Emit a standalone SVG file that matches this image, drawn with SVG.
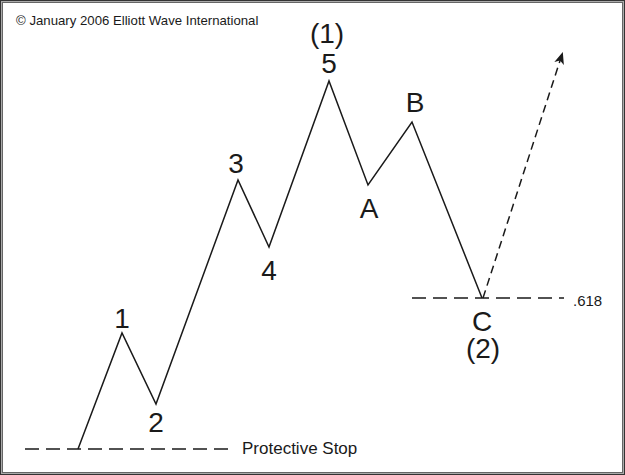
<svg xmlns="http://www.w3.org/2000/svg" width="625" height="475" viewBox="0 0 625 475">
<defs>
<style>
.lbl{font-family:"Liberation Sans",Arial,sans-serif;font-size:28px;fill:#1a1a1a;text-anchor:middle}
.sm{font-family:"Liberation Sans",Arial,sans-serif;fill:#1a1a1a}
.wave{fill:none;stroke:#1a1a1a;stroke-width:1.5;stroke-linejoin:miter}
.level{fill:none;stroke:#1a1a1a;stroke-width:1.5;stroke-dasharray:14 7}
.proj{fill:none;stroke:#1a1a1a;stroke-width:1.5;stroke-dasharray:8 5}
</style>
<marker id="ah" markerWidth="12" markerHeight="10" refX="11" refY="5" orient="auto" markerUnits="userSpaceOnUse">
<path d="M0,0 L12,5 L0,10 L3,5 Z" fill="#1a1a1a"/>
</marker>
</defs>
<rect x="0" y="0" width="625" height="475" fill="#ffffff"/>
<rect x="0.5" y="0.5" width="624" height="474" fill="none" stroke="#333"/>
<rect x="1.5" y="1.5" width="622" height="472" fill="none" stroke="#aaa"/>
<rect x="2.5" y="2.5" width="620" height="470" fill="none" stroke="#666"/>
<text class="sm" x="16" y="25" font-size="13.2">© January 2006 Elliott Wave International</text>
<g id="connectors">
<polyline class="wave" points="78,449 122,333 156,404 238,180 269,247 329,81 368,185 412,122 482,298"/>
<line class="level" x1="25" y1="449" x2="233" y2="449"/>
<line class="level" x1="412" y1="298" x2="564" y2="298"/>
<line class="proj" x1="483" y1="298" x2="562.5" y2="53" marker-end="url(#ah)"/>
</g>
<g id="n1"><text class="lbl" x="122" y="328">1</text></g>
<g id="n2"><text class="lbl" x="156" y="432">2</text></g>
<g id="n3"><text class="lbl" x="236" y="173">3</text></g>
<g id="n4"><text class="lbl" x="269" y="280">4</text></g>
<g id="n5"><text class="lbl" x="329" y="73">5</text></g>
<g id="w1"><text class="lbl" x="327" y="43">(1)</text></g>
<g id="nA"><text class="lbl" x="369" y="218">A</text></g>
<g id="nB"><text class="lbl" x="415" y="112">B</text></g>
<g id="nC"><text class="lbl" x="482" y="331">C</text></g>
<g id="w2"><text class="lbl" x="483" y="358">(2)</text></g>
<g id="stop"><text class="sm" x="242" y="454" font-size="17">Protective Stop</text></g>
<g id="fib"><text class="sm" x="573" y="306" font-size="15">.618</text></g>
</svg>
